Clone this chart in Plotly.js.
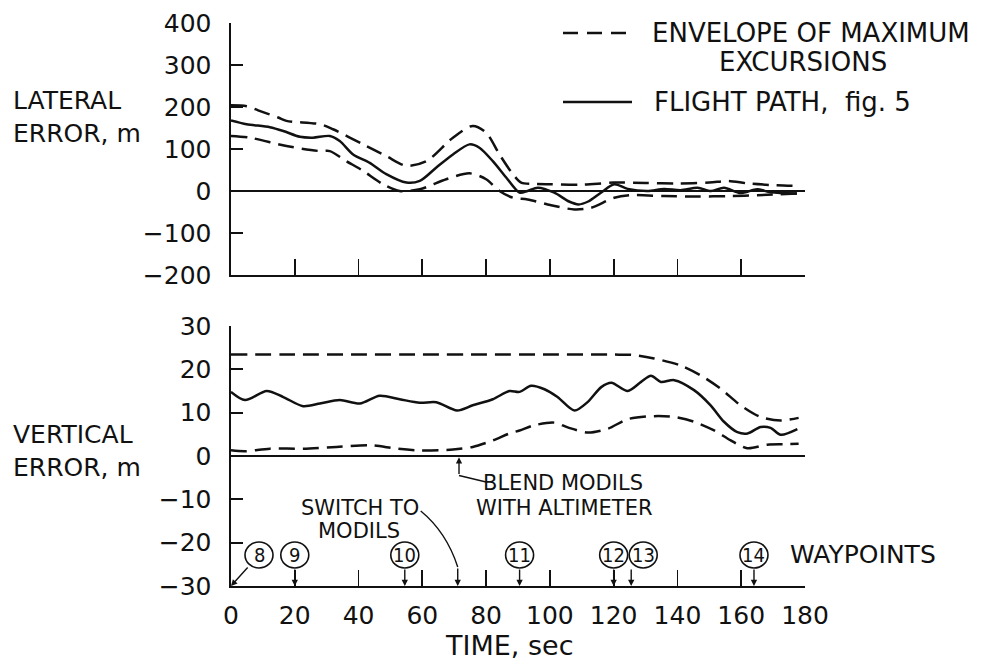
<!DOCTYPE html>
<html>
<head>
<meta charset="utf-8">
<script src="https://cdn.plot.ly/plotly-3.0.1.min.js"></script>
<style>html,body{margin:0;padding:0;background:#fff;}#chart{width:982px;height:661px;}</style>
</head>
<body>
<div id="chart"></div>
<script>
// ---------- DATA ----------
// Lateral error (m) vs time (s)
const latUpperT = [0, 4.9, 8.5, 14.8, 17.4, 27.9, 32, 41.4, 48.7, 55, 61.3, 69.6, 75.8, 80, 84.2, 88.4, 91, 95, 100, 110, 120, 130, 140, 150, 156, 162, 170, 178];
const latUpperV = [204, 202, 192, 175, 167, 159, 147, 111, 83, 60, 71, 127, 155, 139, 87, 40, 20, 17, 16, 15, 20, 19, 18, 20, 24, 18, 14, 12];

const latLowerT = [0, 5.9, 17.4, 27.9, 31, 36.2, 41.4, 47.7, 52.9, 59.2, 67.5, 74.8, 80, 84.2, 88.4, 93, 99.3, 107.7, 112.9, 120.2, 125.4, 135.8, 146, 156.7, 165, 177.5];
const latLowerV = [131, 127, 107, 95, 95, 71, 48, 16, 0, 4, 28, 42, 28, 0, -16, -20, -32, -44, -40, -16, -10, -12, -13, -12, -10, -6];

const latPathT = [0, 4.9, 12.2, 16.4, 21.6, 25.7, 31, 34.1, 38.3, 43.5, 48.7, 55, 59.2, 64.4, 69.6, 74.8, 77.9, 82.1, 86.3, 90.5, 93, 96.2, 101.4, 106, 109, 112, 116, 120.2, 124.4, 130.6, 135.8, 141, 146.3, 150.5, 154.6, 159.8, 165, 169.2, 177.5];
const latPathV = [168, 159, 152, 143, 129, 127, 131, 119, 87, 67, 40, 20, 24, 56, 87, 111, 103, 71, 32, -4, 0, 8, -4, -25, -32, -25, -4, 16, 5, 0, 5, 2, 8, 0, 8, -5, 4, -3, -6];

// Vertical error (m) vs time (s)
const vertUpperT = [0, 20, 40, 60, 80, 100, 120, 126.4, 132.7, 141, 147.3, 153.6, 159.8, 166.1, 172.4, 178];
const vertUpperV = [23.4, 23.4, 23.4, 23.4, 23.4, 23.4, 23.4, 23.3, 22.5, 20.9, 18.6, 15.5, 11.7, 9.0, 8.2, 8.8];

const vertLowerT = [0, 4.4, 12.2, 22.6, 33.1, 43.5, 51.9, 59.2, 69.6, 75.8, 82.1, 87.3, 90.5, 95.1, 101.4, 105.6, 111.9, 118.2, 124.4, 132.7, 139, 145.2, 151.5, 156.7, 161.9, 168.2, 173.4, 178];
const vertLowerV = [1.3, 1.1, 1.7, 1.7, 2.1, 2.5, 1.7, 1.3, 1.5, 2.1, 3.6, 5.2, 5.9, 7.1, 7.7, 6.6, 5.4, 6.3, 8.5, 9.2, 9.0, 7.9, 5.9, 3.6, 1.8, 2.6, 2.7, 2.8];

const vertPathT = [0, 4.4, 11.2, 16.4, 22.6, 27.9, 34.1, 40.4, 46.6, 52.9, 59.2, 64.4, 70.9, 75.8, 82.1, 87.3, 90.5, 94.1, 98.3, 102.4, 107.7, 111.9, 116.1, 119.3, 124.4, 128.6, 131.7, 134.8, 139, 145.2, 150.4, 154.6, 158.8, 162, 166.1, 169.2, 172.4, 177.6];
const vertPathV = [14.8, 12.9, 15.0, 13.6, 11.5, 12.1, 12.9, 12.1, 13.9, 13.1, 12.3, 12.4, 10.5, 11.7, 13.1, 15.0, 14.8, 16.2, 15.4, 13.6, 10.5, 12.5, 15.9, 16.9, 15.0, 17.1, 18.5, 17.1, 17.5, 15.2, 11.7, 7.9, 5.5, 5.2, 6.7, 6.5, 4.9, 6.2];

// Waypoints
const waypointLabels = ['8', '9', '10', '11', '12', '13', '14'];
const waypointTimes = [0, 20, 54.5, 90.5, 120, 125.5, 164];

// Events
const switchToModilsTime = 71.1;
const blendTime = 71.5;

// Axis ticks
const xTickVals = [0, 20, 40, 60, 80, 100, 120, 140, 160, 180];
const latTickVals = [-200, -100, 0, 100, 200, 300, 400];
const vertTickVals = [-30, -20, -10, 0, 10, 20, 30];

// ---------- STYLE / LAYOUT ----------
const FONT = 'DejaVu Sans, Liberation Sans, sans-serif';
const NARROW = 'Liberation Sans Narrow, DejaVu Sans Condensed, DejaVu Sans, sans-serif';
const DASH = '16px,8px';
const LW = 2.5;

function tr(x, y, xa, ya, dash) {
  return {
    x: x, y: y, xaxis: xa, yaxis: ya, type: 'scatter', mode: 'lines',
    line: {color: '#111', width: LW, dash: dash || 'solid', shape: 'spline', smoothing: 0.8},
    hoverinfo: 'skip', showlegend: false
  };
}

const data = [
  tr(latUpperT, latUpperV, 'x', 'y', DASH),
  tr(latLowerT, latLowerV, 'x', 'y', DASH),
  tr(latPathT, latPathV, 'x', 'y'),
  tr(vertUpperT, vertUpperV, 'x2', 'y2', DASH),
  tr(vertLowerT, vertLowerV, 'x2', 'y2', DASH),
  tr(vertPathT, vertPathV, 'x2', 'y2')
];

const xCommon = {
  range: [0, 180], tickvals: xTickVals, ticks: 'inside', ticklen: 16, tickwidth: 1.8,
  tickcolor: '#111', showline: true, linecolor: '#111', linewidth: 2,
  showgrid: false, zeroline: false, fixedrange: true
};
const yCommon = {
  ticks: 'inside', ticklen: 12, tickwidth: 2, tickcolor: '#111',
  showline: true, linecolor: '#111', linewidth: 2.5, showgrid: false,
  zeroline: true, zerolinecolor: '#111', zerolinewidth: 1.6,
  tickfont: {family: FONT, size: 25, color: '#111'}, ticklabelstandoff: 12,
  fixedrange: true
};

const layout = {
  width: 982, height: 661,
  margin: {l: 231, r: 177, t: 23, b: 75},
  paper_bgcolor: '#fff', plot_bgcolor: '#fff',
  showlegend: false,
  font: {family: FONT, color: '#111'},
  xaxis: Object.assign({}, xCommon, {anchor: 'y', showticklabels: false}),
  yaxis: Object.assign({}, yCommon, {domain: [0.5524, 1], range: [-200, 400], tickvals: latTickVals, anchor: 'x'}),
  xaxis2: Object.assign({}, xCommon, {anchor: 'y2', showticklabels: true,
    tickfont: {family: FONT, size: 25, color: '#111'}, ticklabelstandoff: 6}),
  yaxis2: Object.assign({}, yCommon, {domain: [0, 0.4618], range: [-30, 30], tickvals: vertTickVals, anchor: 'x2'}),
  annotations: [],
  shapes: []
};

const A = layout.annotations, S = layout.shapes;

function ptext(text, x, y, size, xanchor, align) {
  A.push({text: text, xref: 'paper', yref: 'paper', x: x, y: y, xanchor: xanchor || 'left', yanchor: 'middle',
    align: align || 'left', showarrow: false, font: {family: FONT, size: size, color: '#111'}});
}
// axis titles (two-line, left aligned)
ptext('LATERAL<br>ERROR, m', -0.384, 0.833, 25);
ptext('VERTICAL<br>ERROR, m', -0.384, 0.2402, 25);
ptext('TIME, sec', 0.486, -0.1048, 27, 'center');

// legend
ptext('ENVELOPE OF MAXIMUM', 0.730, 0.9822, 26);
ptext('EXCURSIONS', 0.9965, 0.9307, 26, 'center');
ptext('FLIGHT PATH,  fig. 5', 0.7334, 0.8597, 26);
S.push({type: 'line', xref: 'paper', yref: 'paper', x0: 0.5784, x1: 0.6986, y0: 0.9822, y1: 0.9822,
  line: {color: '#111', width: 2.5, dash: '15px,9px'}});
S.push({type: 'line', xref: 'paper', yref: 'paper', x0: 0.5784, x1: 0.6986, y0: 0.8597, y1: 0.8597,
  line: {color: '#111', width: 2.5}});

// WAYPOINTS label
ptext('WAYPOINTS', 0.9704, 0.0568, 25);

// waypoint circles + arrows
const wpOffset = {'8': [28, 18, -20], '13': [12, 0, -18]}; // [circle px offset, arrow tail dx, arrow tail dy]
waypointLabels.forEach((lab, i) => {
  const t = waypointTimes[i];
  const o = wpOffset[lab] || [0, 0, -18];
  S.push({type: 'circle', xref: 'x2', yref: 'y2', xsizemode: 'pixel', ysizemode: 'pixel',
    xanchor: t, yanchor: -30, x0: o[0] - 14, x1: o[0] + 14, y0: 18, y1: 44,
    line: {color: '#111', width: 1.6}, fillcolor: 'rgba(0,0,0,0)'});
  A.push({text: lab, xref: 'x2', yref: 'y2', x: t, y: -30, xshift: o[0], yshift: 31,
    showarrow: false, xanchor: 'center', yanchor: 'middle',
    font: {family: NARROW, size: 20, color: '#111'}});
  A.push({text: '', xref: 'x2', yref: 'y2', x: t, y: -30, ax: o[1], ay: o[2],
    showarrow: true, arrowhead: 2, arrowsize: 0.9, arrowwidth: 1.4, arrowcolor: '#111', standoff: 0});
});

// SWITCH TO MODILS
A.push({text: 'SWITCH TO', xref: 'x2', yref: 'y2', x: 40.4, y: -11.9, showarrow: false,
  xanchor: 'center', yanchor: 'middle', font: {family: FONT, size: 21, color: '#111'}});
A.push({text: 'MODILS', xref: 'x2', yref: 'y2', x: 40.1, y: -17.2, showarrow: false,
  xanchor: 'center', yanchor: 'middle', font: {family: FONT, size: 21, color: '#111'}});
S.push({type: 'path', xref: 'x2', yref: 'y2',
  path: 'M 59.5,-12.7 Q 67.5,-17.5 ' + switchToModilsTime + ',-25.6',
  line: {color: '#111', width: 1.4}});
A.push({text: '', xref: 'x2', yref: 'y2', x: switchToModilsTime, y: -30,
  axref: 'x2', ayref: 'y2', ax: switchToModilsTime, ay: -25.6,
  showarrow: true, arrowhead: 2, arrowsize: 0.9, arrowwidth: 1.4, arrowcolor: '#111', standoff: 0});

// BLEND MODILS WITH ALTIMETER
A.push({text: 'BLEND MODILS', xref: 'x2', yref: 'y2', x: 104.2, y: -6.2, showarrow: false,
  xanchor: 'center', yanchor: 'middle', font: {family: FONT, size: 21, color: '#111'}});
A.push({text: 'WITH ALTIMETER', xref: 'x2', yref: 'y2', x: 104.6, y: -11.9, showarrow: false,
  xanchor: 'center', yanchor: 'middle', font: {family: FONT, size: 21, color: '#111'}});
S.push({type: 'line', xref: 'x2', yref: 'y2', x0: blendTime, y0: -4.5, x1: 80.0, y1: -6.0,
  line: {color: '#111', width: 1.4}});
A.push({text: '', xref: 'x2', yref: 'y2', x: blendTime, y: -0.3,
  axref: 'x2', ayref: 'y2', ax: blendTime, ay: -4.5,
  showarrow: true, arrowhead: 2, arrowsize: 0.9, arrowwidth: 1.4, arrowcolor: '#111', standoff: 0});

Plotly.newPlot('chart', data, layout, {staticPlot: true, displayModeBar: false});
</script>
</body>
</html>
